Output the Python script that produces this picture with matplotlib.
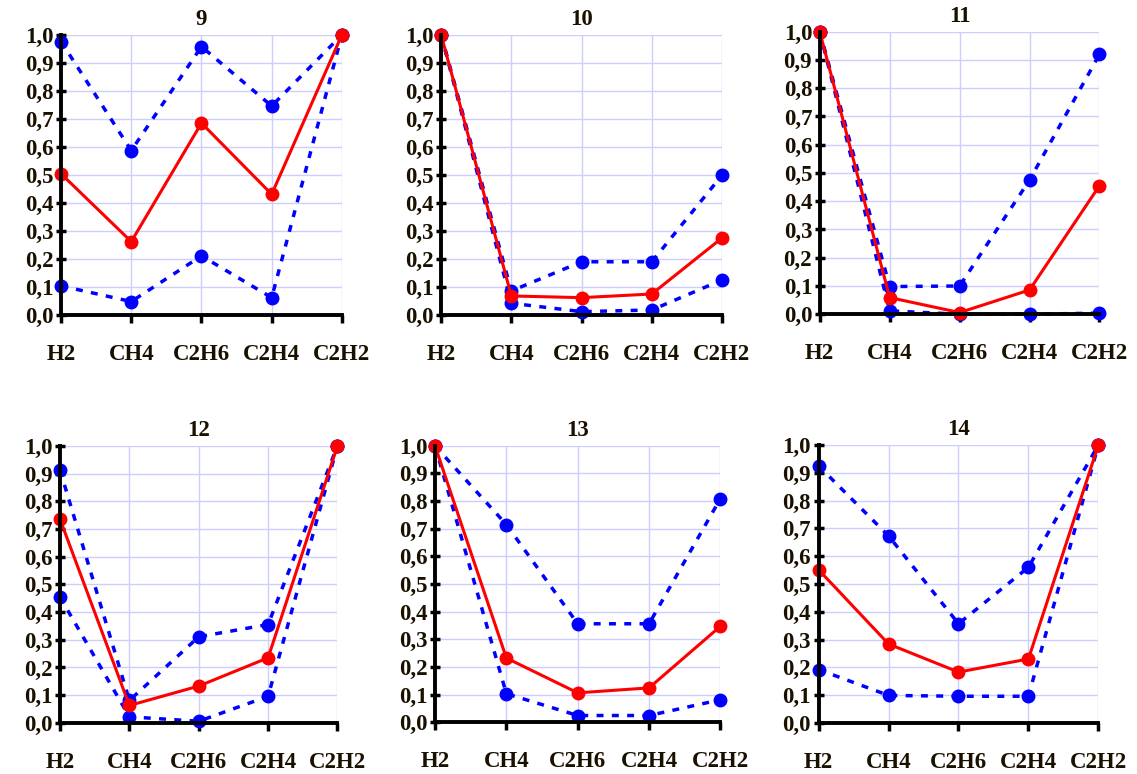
import matplotlib.pyplot as plt
from matplotlib.ticker import FuncFormatter, MultipleLocator

gases = ['H2', 'CH4', 'C2H6', 'C2H4', 'C2H2']
titles = ['9', '10', '11', '12', '13', '14']

# mean (red) and upper / lower bounds (blue) for each sample
mean_9 = [0.504, 0.262, 0.685, 0.431, 1.0]
upper_9 = [0.976, 0.587, 0.958, 0.746, 1.0]
lower_9 = [0.104, 0.048, 0.211, 0.062, 1.0]

mean_10 = [1.0, 0.068, 0.062, 0.075, 0.275]
upper_10 = [1.0, 0.086, 0.19, 0.19, 0.499]
lower_10 = [1.0, 0.042, 0.012, 0.018, 0.125]

mean_11 = [1.0, 0.059, 0.006, 0.086, 0.455]
upper_11 = [1.0, 0.098, 0.1, 0.475, 0.92]
lower_11 = [1.0, 0.012, 0.0, 0.0, 0.004]

mean_12 = [0.735, 0.063, 0.133, 0.235, 1.0]
upper_12 = [0.912, 0.081, 0.311, 0.355, 1.0]
lower_12 = [0.454, 0.022, 0.006, 0.096, 1.0]

mean_13 = [1.0, 0.232, 0.106, 0.124, 0.347]
upper_13 = [1.0, 0.715, 0.356, 0.356, 0.809]
lower_13 = [1.0, 0.103, 0.024, 0.024, 0.081]

mean_14 = [0.551, 0.284, 0.183, 0.23, 1.0]
upper_14 = [0.925, 0.673, 0.357, 0.56, 1.0]
lower_14 = [0.192, 0.099, 0.096, 0.096, 1.0]

means = [mean_9, mean_10, mean_11, mean_12, mean_13, mean_14]
uppers = [upper_9, upper_10, upper_11, upper_12, upper_13, upper_14]
lowers = [lower_9, lower_10, lower_11, lower_12, lower_13, lower_14]

plt.rcParams['font.family'] = 'Liberation Serif'
plt.rcParams['font.weight'] = 'bold'

fig = plt.figure(figsize=(11.37, 7.74), dpi=100)

# axes rectangles (left, bottom, width, height) in figure fractions
boxes = [
    [0.0537, 0.593, 0.247, 0.362],
    [0.388, 0.593, 0.247, 0.362],
    [0.721, 0.594, 0.246, 0.365],
    [0.0528, 0.066, 0.244, 0.358],
    [0.3826, 0.067, 0.251, 0.357],
    [0.720, 0.066, 0.246, 0.359],
]

comma = FuncFormatter(lambda v, p: ('%.1f' % v).replace('.', ','))
x = list(range(len(gases)))

for i in range(6):
    ax = fig.add_axes(boxes[i])
    ax.plot(x, uppers[i], color='#0000ff', lw=2.5, ls=(0, (2, 2.4)),
            marker='o', ms=9, clip_on=False, zorder=3)
    ax.plot(x, lowers[i], color='#0000ff', lw=2.5, ls=(0, (2, 2.4)),
            marker='o', ms=9, clip_on=False, zorder=3)
    ax.plot(x, means[i], color='#ff0000', lw=2.2, marker='o', ms=9,
            clip_on=False, zorder=4)

    ax.set_xlim(0, 4)
    ax.set_ylim(0, 1)
    ax.yaxis.set_major_locator(MultipleLocator(0.1))
    ax.yaxis.set_major_formatter(comma)
    ax.set_xticks(x)
    ax.set_xticklabels(gases)
    ax.grid(True, color='#cdcdff', lw=1)
    ax.set_axisbelow(True)

    for s in ['top', 'right']:
        ax.spines[s].set_visible(False)
    for s in ['left', 'bottom']:
        ax.spines[s].set_linewidth(2.8)
        ax.spines[s].set_color('black')
        ax.spines[s].set_zorder(5)

    ax.tick_params(axis='x', direction='out', length=6, width=2.5,
                   pad=15, labelsize=16.5, labelcolor='#1a1000')
    ax.tick_params(axis='y', direction='inout', length=7, width=2.5,
                   pad=2, labelsize=16.5, labelcolor='#1a1000')
    for lab in ax.get_xticklabels() + ax.get_yticklabels():
        lab.set_fontweight('bold')

    ax.set_title(titles[i], fontsize=16.5, fontweight='bold', pad=7,
                 color='#1a1000')

fig.savefig('out.png', dpi=100)
